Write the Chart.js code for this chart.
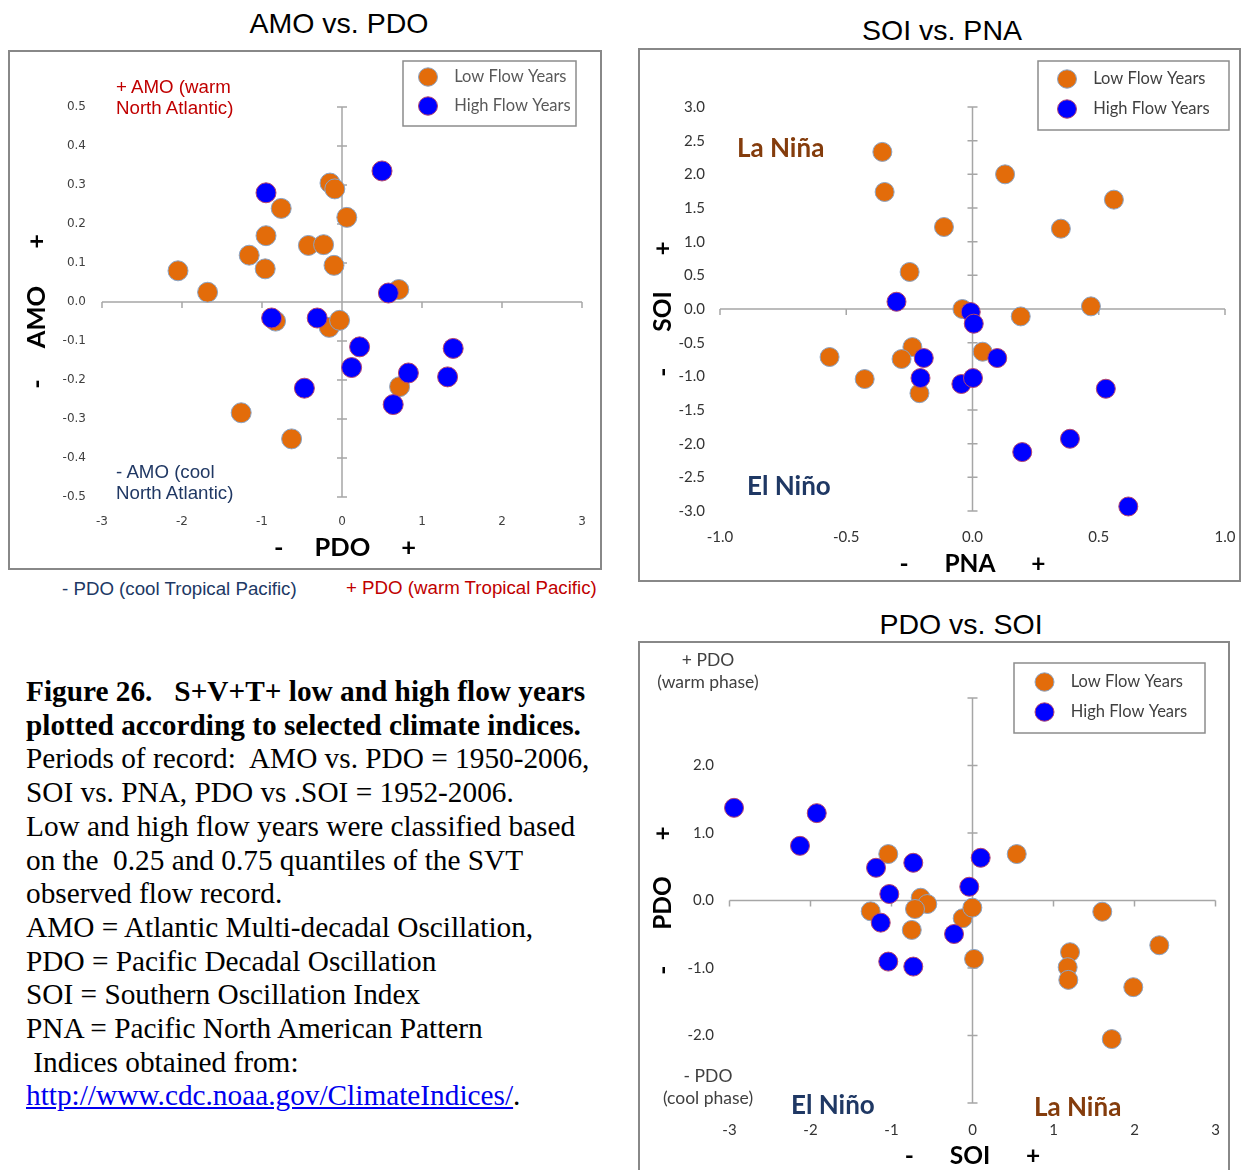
<!DOCTYPE html>
<html>
<head>
<meta charset="UTF-8">
<title>Figure 26 - climate indices</title>
<script src="https://cdn.jsdelivr.net/npm/chart.js"></script>
<style>
body { margin: 0; background: #fff; }
#page { position: relative; width: 1244px; height: 1170px; overflow: hidden; background: #fff; }
.box { position: absolute; border: 2px solid #888; background: #fff; }
.box canvas { display: block; }
.ttl { position: absolute; font-family: "Liberation Sans", Arial, sans-serif; font-size: 28.5px; line-height: 1; text-align: center; color: #000; white-space: nowrap; }
.note { position: absolute; white-space: nowrap; }
.arial { font-family: "Liberation Sans", Arial, sans-serif; font-size: 18.7px; line-height: 20.5px; }
.nino { font-family: Lato, sans-serif; font-weight: bold; font-size: 26px; line-height: 1; }
.phase { font-family: Lato, sans-serif; font-size: 17.5px; line-height: 22px; color: #404040; text-align: center; width: 140px; }
#caption { position: absolute; left: 26px; top: 675px; font-family: "Liberation Serif", "Times New Roman", serif; font-size: 29.3px; line-height: 33.7px; color: #000; white-space: pre; }
#caption a { color: #0000ee; text-decoration: underline; }
</style>
</head>
<body>
<div id="page">

  <div class="ttl" style="left:139px; top:9px; width:400px;">AMO vs. PDO</div>
  <div class="box" style="left:8px; top:50px;"><canvas id="amoPdo" width="590" height="516"></canvas></div>
  <div class="note arial" style="left:116px; top:77px; color:#c00000;">+ AMO (warm<br>North Atlantic)</div>
  <div class="note arial" style="left:116px; top:462px; color:#203864;">- AMO (cool<br>North Atlantic)</div>
  <div style="position:absolute; left:0; top:576px; width:620px; height:23px; overflow:hidden;">
    <div class="note arial" style="left:62px; top:3px; color:#203864;">- PDO (cool Tropical Pacific)</div>
    <div class="note arial" style="left:346px; top:2px; color:#c00000;">+ PDO (warm Tropical Pacific)</div>
  </div>

  <div class="ttl" style="left:742px; top:16px; width:400px;">SOI vs. PNA</div>
  <div class="box" style="left:638px; top:48px;"><canvas id="soiPna" width="599" height="530"></canvas></div>
  <div class="note nino" style="left:737px; top:134px; color:#843c0c;">La Niña</div>
  <div class="note nino" style="left:747px; top:472px; color:#1f3864;">El Niño</div>

  <div class="ttl" style="left:761px; top:610px; width:400px;">PDO vs. SOI</div>
  <div class="box" style="left:638px; top:641px;"><canvas id="pdoSoi" width="588" height="540"></canvas></div>
  <div class="note phase" style="left:638px; top:649px;">+ PDO<br>(warm phase)</div>
  <div class="note phase" style="left:638px; top:1065px;">- PDO<br>(cool phase)</div>
  <div class="note nino" style="left:791px; top:1091px; color:#1f3864;">El Niño</div>
  <div class="note nino" style="left:1034px; top:1093px; color:#843c0c;">La Niña</div>

  <div id="caption"><b>Figure 26.   S+V+T+ low and high flow years</b>
<b>plotted according to selected climate indices.</b>
Periods of record:  AMO vs. PDO = 1950-2006,
SOI vs. PNA, PDO vs .SOI = 1952-2006.
Low and high flow years were classified based
on the  0.25 and 0.75 quantiles of the SVT
observed flow record.
AMO = Atlantic Multi-decadal Oscillation,
PDO = Pacific Decadal Oscillation
SOI = Southern Oscillation Index
PNA = Pacific North American Pattern
 Indices obtained from:
<a href="#">http://www.cdc.noaa.gov/ClimateIndices/</a>.</div>
</div>

<script>
// AMO vs. PDO  (x = PDO, y = AMO)
const amoPdoLowX  = [-2.05, -1.68, -1.16, -0.95, -0.96, -0.76, -0.42, -0.23, -0.15, -0.09, -0.10, 0.06, 0.71, -0.16, -0.03, -0.83, 0.72, -1.26, -0.63];
const amoPdoLowY  = [0.08, 0.025, 0.12, 0.17, 0.085, 0.24, 0.145, 0.147, 0.305, 0.29, 0.094, 0.217, 0.032, -0.065, -0.047, -0.049, -0.217, -0.284, -0.351];
const amoPdoHighX = [-0.95, 0.50, 0.58, -0.88, -0.31, 0.22, 0.12, -0.47, 0.83, 0.64, 1.39, 1.32];
const amoPdoHighY = [0.28, 0.336, 0.023, -0.041, -0.041, -0.115, -0.168, -0.221, -0.182, -0.263, -0.119, -0.192];

// SOI vs. PNA  (x = PNA, y = SOI)
const soiPnaLowX  = [-0.357, -0.348, -0.113, -0.249, -0.566, -0.427, -0.238, -0.281, -0.21, 0.129, 0.56, 0.35, -0.04, 0.191, 0.469, 0.04];
const soiPnaLowY  = [2.333, 1.738, 1.218, 0.55, -0.713, -1.04, -0.565, -0.743, -1.25, 2.0, 1.624, 1.193, 0.0, -0.11, 0.039, -0.634];
const soiPnaHighX = [-0.301, -0.193, -0.206, -0.007, 0.005, 0.098, -0.044, 0.002, 0.528, 0.386, 0.197, 0.617];
const soiPnaHighY = [0.108, -0.728, -1.025, -0.045, -0.218, -0.728, -1.114, -1.025, -1.184, -1.927, -2.125, -2.933];

// PDO vs. SOI  (x = SOI, y = PDO)
const pdoSoiLowX  = [-1.04, -1.257, -0.64, -0.558, -0.71, -0.75, -0.121, -0.002, 0.019, 0.546, 1.602, 1.204, 1.175, 1.183, 2.306, 1.985, 1.719];
const pdoSoiLowY  = [0.688, -0.16, 0.041, -0.052, -0.126, -0.436, -0.263, -0.106, -0.865, 0.688, -0.166, -0.766, -0.988, -1.176, -0.663, -1.284, -2.053];
const pdoSoiHighX = [-2.944, -1.923, -2.13, -1.191, -0.731, 0.101, -1.027, -0.04, -1.133, -0.228, -1.04, -0.731];
const pdoSoiHighY = [1.373, 1.294, 0.81, 0.485, 0.559, 0.633, 0.096, 0.204, -0.328, -0.496, -0.905, -0.979];

const seriesNames = ['Low Flow Years', 'High Flow Years'];

function pairs(xs, ys) {
    return xs.map((v, i) => ({ x: v, y: ys[i] }));
}

// axes that cross at 0,0 like the Excel chart
const crossAxes = {
    id: 'crossAxes',
    beforeDatasetsDraw(chart, args, opts) {
        const ctx = chart.ctx;
        const x = chart.scales.x, y = chart.scales.y;
        const x0 = x.getPixelForValue(0), y0 = y.getPixelForValue(0);
        ctx.save();
        ctx.strokeStyle = opts.color || '#a6a6a6';
        ctx.lineWidth = 1.5;
        ctx.beginPath();
        ctx.moveTo(x.left, y0); ctx.lineTo(x.right, y0);
        ctx.moveTo(x0, y.top); ctx.lineTo(x0, y.bottom);
        x.ticks.forEach(t => {
            const px = x.getPixelForValue(t.value);
            ctx.moveTo(px, y0); ctx.lineTo(px, y0 + 6);
        });
        y.ticks.forEach(t => {
            const py = y.getPixelForValue(t.value);
            ctx.moveTo(x0 - 5, py); ctx.lineTo(x0 + 5, py);
        });
        ctx.stroke();
        ctx.restore();
    }
};

// moves the legend inside the plot and puts a frame round it
const legendFrame = {
    id: 'legendFrame',
    afterLayout(chart, args, opts) {
        const lg = chart.legend;
        const pad = lg.options.labels.padding;
        lg.left = opts.item[0] - pad;
        lg.top = opts.item[1] - pad;
        lg.right = lg.left + lg.width;
        lg.height = 300;
        lg.bottom = lg.top + 300;
    },
    afterDraw(chart, args, opts) {
        const ctx = chart.ctx;
        const f = opts.frame;
        ctx.save();
        ctx.strokeStyle = '#8c8c8c';
        ctx.lineWidth = 1.5;
        ctx.strokeRect(f[0], f[1], f[2], f[3]);
        ctx.restore();
    }
};

function makeChart(id, low, high, s) {
    const ctx = document.getElementById(id);
    return new Chart(ctx, {
        type: 'scatter',
        data: {
            datasets: [{
                label: '  ' + seriesNames[0],
                data: low,
                backgroundColor: '#e36c0a',
                borderColor: '#8aa4c6',
                borderWidth: 1,
                pointRadius: s.radius,
                clip: false,
                order: 1
            }, {
                label: '  ' + seriesNames[1],
                data: high,
                backgroundColor: '#0000ff',
                borderColor: '#b4466e',
                borderWidth: 1,
                pointRadius: s.radius,
                clip: false,
                order: 0
            }]
        },
        options: {
            responsive: false,
            animation: false,
            devicePixelRatio: 1,
            events: [],
            layout: { padding: s.padding },
            scales: {
                x: {
                    type: 'linear',
                    min: s.xMin, max: s.xMax,
                    grid: { display: false, drawTicks: false },
                    border: { display: false },
                    ticks: {
                        stepSize: s.xStep,
                        padding: s.xTickPad,
                        color: s.tickColor,
                        font: s.tickFont,
                        maxRotation: 0,
                        autoSkip: false,
                        callback: s.xLabel
                    },
                    title: { display: true, text: s.xTitle, color: '#000', font: s.titleFont, padding: { top: 0, bottom: s.xTitlePad } },
                    afterFit: (sc) => { sc.height = s.xHeight; sc.paddingLeft = 0; sc.paddingRight = 0; }
                },
                y: {
                    type: 'linear',
                    min: s.yMin, max: s.yMax,
                    grid: { display: false, drawTicks: false },
                    border: { display: false },
                    ticks: {
                        stepSize: s.yStep,
                        padding: s.yTickPad,
                        color: s.tickColor,
                        font: s.tickFont,
                        autoSkip: false,
                        callback: s.yLabel
                    },
                    title: { display: true, text: s.yTitle, color: '#000', font: s.titleFont, padding: { top: s.yTitlePad, bottom: 0 } },
                    afterFit: (sc) => { sc.width = s.yWidth; sc.paddingTop = 0; sc.paddingBottom = 0; }
                }
            },
            plugins: {
                tooltip: { enabled: false },
                legend: {
                    position: 'chartArea',
                    align: 'start',
                    labels: {
                        usePointStyle: true,
                        pointStyle: 'circle',
                        pointStyleWidth: 19,
                        boxHeight: 13,
                        padding: s.legendPad,
                        color: s.legendColor,
                        font: s.legendFont,
                        sort: (a, b) => a.datasetIndex - b.datasetIndex
                    }
                },
                legendFrame: { frame: s.frame, item: s.item },
                crossAxes: { color: '#a6a6a6' }
            }
        },
        plugins: [crossAxes, legendFrame]
    });
}

const oneDec = (v) => Number(v).toFixed(1);
const whole = (v) => String(Math.round(v));
const axisFont = { family: 'Lato', size: 24.5, weight: 'bold' };
const keyFont = { family: 'Lato', size: 16.5 };

makeChart('amoPdo', pairs(amoPdoLowX, amoPdoLowY), pairs(amoPdoHighX, amoPdoHighY), {
    radius: 10,
    padding: { top: 55, right: 18, left: 0, bottom: 0 },
    xMin: -3, xMax: 3, xStep: 1, yMin: -0.5, yMax: 0.5, yStep: 0.1,
    xLabel: whole, yLabel: oneDec,
    xHeight: 71, yWidth: 92, xTickPad: 18, yTickPad: 16,
    xTitle: ' -     PDO     +', yTitle: '-     AMO      +   ',
    xTitlePad: 5, yTitlePad: 11,
    tickColor: '#404040',
    tickFont: { family: 'DejaVu Sans', size: 12 },
    titleFont: { family: 'Lato', size: 25.5, weight: 'bold' },
    legendPad: 12.5, legendColor: '#595959',
    legendFont: keyFont,
    frame: [393, 9, 173, 65], item: [408.5, 16.75]
});

makeChart('soiPna', pairs(soiPnaLowX, soiPnaLowY), pairs(soiPnaHighX, soiPnaHighY), {
    radius: 9.5,
    padding: { top: 57, right: 14, left: 0, bottom: 0 },
    xMin: -1, xMax: 1, xStep: 0.5, yMin: -3, yMax: 3, yStep: 0.5,
    xLabel: oneDec, yLabel: oneDec,
    xHeight: 69, yWidth: 80, xTickPad: 17, yTickPad: 15,
    xTitle: '-      PNA      +', yTitle: '-      SOI      +',
    xTitlePad: 1, yTitlePad: 8,
    tickColor: '#333333',
    tickFont: { family: 'Lato', size: 15 },
    titleFont: axisFont,
    legendPad: 13.5, legendColor: '#404040',
    legendFont: keyFont,
    frame: [398, 11, 191, 69], item: [417.5, 20.75]
});

makeChart('pdoSoi', pairs(pdoSoiLowX, pdoSoiLowY), pairs(pdoSoiHighX, pdoSoiHighY), {
    radius: 9.5,
    padding: { top: 55, right: 12.5, left: 0, bottom: 0 },
    xMin: -3, xMax: 3, xStep: 1, yMin: -3, yMax: 3, yStep: 1,
    xLabel: whole, yLabel: (v) => Math.abs(v) === 3 ? '' : oneDec(v),
    xHeight: 80, yWidth: 89.5, xTickPad: 18, yTickPad: 15.5,
    xTitle: '-      SOI      +', yTitle: '-      PDO      +',
    xTitlePad: 12.5, yTitlePad: 8,
    tickColor: '#333333',
    tickFont: { family: 'Lato', size: 15 },
    titleFont: axisFont,
    legendPad: 13.5, legendColor: '#404040',
    legendFont: keyFont,
    frame: [374, 20, 191, 70], item: [395, 30.75]
});
</script>
</body>
</html>
